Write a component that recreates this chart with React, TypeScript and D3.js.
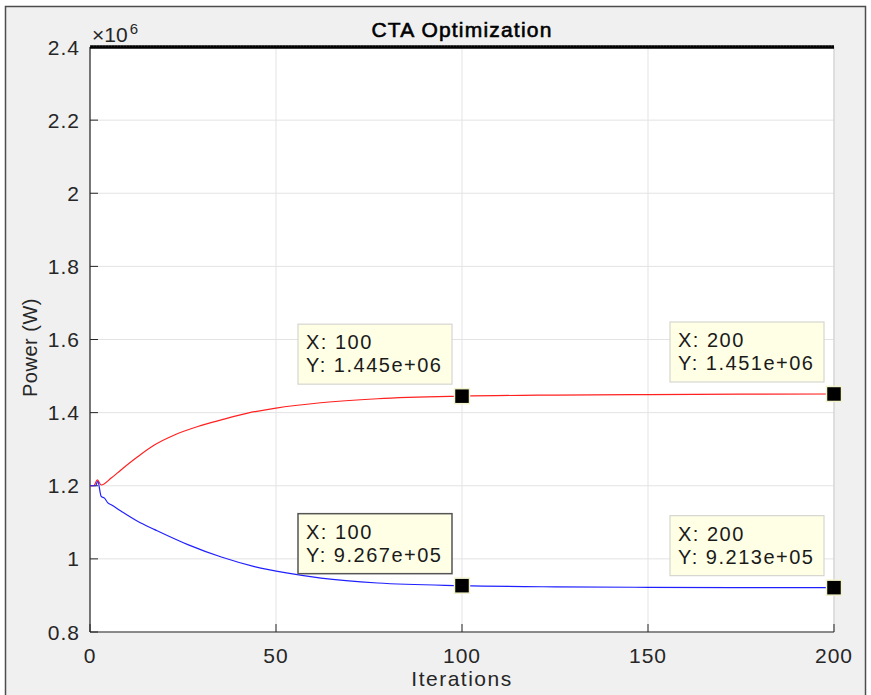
import React from "react";
import * as d3 from "d3";

const title = "CTA Optimization";
const xLabel = "Iterations";
const yLabel = "Power (W)";
const xTicks = [0, 50, 100, 150, 200];
const yTicks = [0.8e6, 1.0e6, 1.2e6, 1.4e6, 1.6e6, 1.8e6, 2.0e6, 2.2e6, 2.4e6];
const yTickLabels = ["0.8", "1", "1.2", "1.4", "1.6", "1.8", "2", "2.2", "2.4"];

const limitIter = [0, 200];
const limitPower = [2.4e6, 2.4e6];

const redIter = [0, 1, 2, 3, 5.7, 8.4, 12.9, 17.4, 22.7, 29, 35.3, 42.4, 50, 62, 77.3, 100, 125, 150, 175, 200];
const redPower = [1.2e6, 1.2e6, 1.216e6, 1.202e6, 1.221e6, 1.244e6, 1.28e6, 1.312e6, 1.339e6, 1.362e6, 1.38e6, 1.3985e6, 1.4125e6, 1.427e6, 1.438e6, 1.445e6, 1.448e6, 1.4495e6, 1.4505e6, 1.451e6];

const blueIter = [0, 1, 1.5, 2.1, 3, 3.9, 4.8, 5.7, 8.4, 12.9, 17.4, 26.3, 35.3, 44.2, 53.2, 62.1, 77.3, 100, 125, 150, 175, 200];
const bluePower = [1.2e6, 1.2e6, 1.2e6, 1.212e6, 1.171e6, 1.166e6, 1.153e6, 1.148e6, 1.13e6, 1.102e6, 1.08e6, 1.039e6, 1.005e6, 0.979e6, 0.961e6, 0.9475e6, 0.934e6, 0.9267e6, 0.9235e6, 0.9222e6, 0.9216e6, 0.9213e6];

const tipX = [100, 200, 100, 200];
const tipY = [1.445e6, 1.451e6, 0.9267e6, 0.9213e6];
const tipYText = ["1.445e+06", "1.451e+06", "9.267e+05", "9.213e+05"];

const W = 871;
const H = 695;
const left = 90;
const right = 834;
const top = 47;
const bottom = 632;

const FONT = "'Liberation Sans', Arial, Helvetica, sans-serif";

export default function App() {
  const x = d3.scaleLinear().domain([0, 200]).range([left, right]);
  const y = d3.scaleLinear().domain([0.8e6, 2.4e6]).range([bottom, top]);

  const line = d3
    .line<[number, number]>()
    .x((d) => x(d[0]))
    .y((d) => y(d[1]))
    .curve(d3.curveMonotoneX);

  const redPts = redIter.map((v, i) => [v, redPower[i]] as [number, number]);
  const bluePts = blueIter.map((v, i) => [v, bluePower[i]] as [number, number]);
  const limitPts = limitIter.map((v, i) => [v, limitPower[i]] as [number, number]);

  const boxW = 154;
  const boxH = 60;
  const boxes = tipX.map((tx, i) => {
    const mx = x(tx);
    const my = y(tipY[i]);
    return { mx, my, bx: mx - 164, by: my - 72, selected: i === 2 };
  });

  return (
    <svg
      width={W}
      height={H}
      style={{ position: "absolute", left: 0, top: 0, display: "block" }}
      fontFamily={FONT}
    >
      <rect x={0} y={0} width={W} height={H} fill="#ffffff" />
      <rect x={5.5} y={6.5} width={860} height={H} fill="#f0f0f0" stroke="#4d4d4d" strokeWidth={1.5} />
      <rect x={left} y={top} width={right - left} height={bottom - top} fill="#ffffff" />

      {/* grid */}
      {xTicks.map((t) => (
        <line key={"gx" + t} x1={x(t)} x2={x(t)} y1={top} y2={bottom} stroke="#e3e3e3" strokeWidth={1} />
      ))}
      {yTicks.map((t) => (
        <line key={"gy" + t} x1={left} x2={right} y1={y(t)} y2={y(t)} stroke="#e3e3e3" strokeWidth={1} />
      ))}

      <line x1={right} x2={right} y1={top} y2={bottom} stroke="#cfcfcf" strokeWidth={1} />

      {/* axes */}
      <line x1={left} x2={left} y1={top} y2={bottom} stroke="#262626" strokeWidth={1.2} />
      <line x1={left} x2={right} y1={bottom} y2={bottom} stroke="#262626" strokeWidth={1.2} />
      {xTicks.map((t) => (
        <line key={"tx" + t} x1={x(t)} x2={x(t)} y1={bottom} y2={bottom - 8} stroke="#262626" strokeWidth={1} />
      ))}
      {yTicks.map((t) => (
        <line key={"ty" + t} x1={left} x2={left + 8} y1={y(t)} y2={y(t)} stroke="#262626" strokeWidth={1} />
      ))}

      {/* tick labels */}
      {xTicks.map((t) => (
        <text key={"lx" + t} x={x(t)} y={bottom + 31} fontSize={21} letterSpacing={1} textAnchor="middle" fill="#262626">
          {t}
        </text>
      ))}
      {yTicks.map((t, i) => (
        <text key={"ly" + t} x={left - 10} y={y(t) + 7.5} fontSize={21} letterSpacing={1} textAnchor="end" fill="#262626">
          {yTickLabels[i]}
        </text>
      ))}
      <text x={left + 2} y={42} fontSize={21} fill="#262626">
        {"\u00d710"}
        <tspan dx={2} dy={-8} fontSize={15}>6</tspan>
      </text>

      {/* labels */}
      <text
        x={(left + right) / 2}
        y={37}
        fontSize={21}
        letterSpacing={1.2}
        textAnchor="middle"
        fill="#000000"
        stroke="#000000"
        strokeWidth={0.6}
      >
        {title}
      </text>
      <text x={(left + right) / 2} y={686} fontSize={21} letterSpacing={1.5} textAnchor="middle" fill="#262626">
        {xLabel}
      </text>
      <text
        transform={`translate(37, ${(top + bottom) / 2 + 8}) rotate(-90)`}
        fontSize={20}
        letterSpacing={0.5}
        textAnchor="middle"
        fill="#262626"
      >
        {yLabel}
      </text>

      {/* series */}
      <path d={line(limitPts) ?? ""} fill="none" stroke="#000000" strokeWidth={3.5} />
      <path d={line(limitPts) ?? ""} fill="none" stroke="#555555" strokeWidth={1} strokeDasharray="1 2" transform="translate(0,-1.2)" />
      <path d={line(redPts) ?? ""} fill="none" stroke="#ff2020" strokeWidth={1.2} />
      <path d={line(bluePts) ?? ""} fill="none" stroke="#2020ff" strokeWidth={1.2} />

      {/* datatips */}
      {boxes.map((b, i) => (
        <g key={"tip" + i}>
          <rect
            x={b.bx}
            y={b.by}
            width={boxW}
            height={boxH}
            fill="#ffffe6"
            stroke={b.selected ? "#555555" : "#d6d6d0"}
            strokeWidth={b.selected ? 1.5 : 1.2}
          />
          <text x={b.bx + 8} y={b.by + 25} fontSize={20} letterSpacing={1.5} fill="#1a1a1a">
            {"X: " + tipX[i]}
          </text>
          <text x={b.bx + 8} y={b.by + 48} fontSize={20} letterSpacing={1.5} fill="#1a1a1a">
            {"Y: " + tipYText[i]}
          </text>
          <rect x={b.mx - 7.5} y={b.my - 7.5} width={15} height={15} fill="#000000" stroke="#f2f2cc" strokeWidth={1.5} />
        </g>
      ))}
    </svg>
  );
}
